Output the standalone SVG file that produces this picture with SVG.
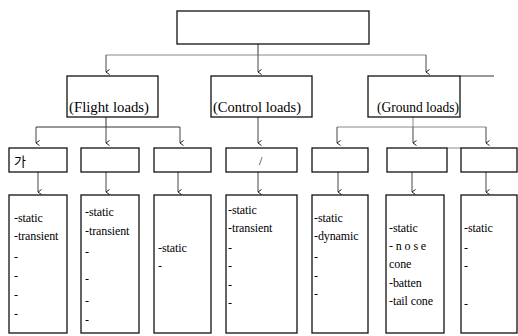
<svg xmlns="http://www.w3.org/2000/svg" width="518" height="336" viewBox="0 0 518 336">
<defs>
<marker id="ah" viewBox="0 0 8 8" refX="4" refY="7" markerWidth="8" markerHeight="8" markerUnits="userSpaceOnUse" orient="auto">
<path d="M1.5,3.5 L4,7 L6.5,3.5" fill="none" stroke="#222" stroke-width="1"/>
</marker>
</defs>
<style>
.box{fill:#fff;stroke:#111;stroke-width:1.3}
.ln{fill:none;stroke:#333;stroke-width:1}
.g{stroke:#888}
.ar{fill:none;stroke:#444;stroke-width:1;marker-end:url(#ah)}
.t{font-size:12px;fill:#000;letter-spacing:-0.1px}
.h{font-size:14px;fill:#000;text-anchor:middle}
.k{font-size:13px;fill:#000}
</style>
<rect width="518" height="336" fill="#fff"/>
<g id="connectors">
<path class="ln" d="M258,44 V55"/>
<path class="ln g" d="M106,55 H426"/>
<path class="ar" d="M106,55 V72"/>
<path class="ar" d="M258,55 V72"/>
<path class="ar" d="M426,55 V72"/>
<path class="ln" d="M460,76 H494"/>
<path class="ln" d="M106,117 V127"/>
<path class="ln" d="M36,127 H180"/>
<path class="ar" d="M36,127 V143"/>
<path class="ar" d="M106,127 V143"/>
<path class="ar" d="M180,127 V143"/>
<path class="ar" d="M258,117 V143"/>
<path class="ln g" d="M413,117 V127"/>
<path class="ln g" d="M337,127 H486"/>
<path class="ar" d="M337,127 V143"/>
<path class="ar" d="M413,127 V143"/>
<path class="ar" d="M486,127 V143"/>
<path class="ln g" d="M447,148 H461"/>
<path class="ar" d="M38,172 V192"/>
<path class="ar" d="M106,172 V192"/>
<path class="ar" d="M178,172 V192"/>
<path class="ar" d="M258,172 V192"/>
<path class="ar" d="M338,172 V192"/>
<path class="ar" d="M412,172 V192"/>
<path class="ar" d="M486,172 V192"/>
</g>
<g font-family="'Liberation Serif', 'DejaVu Serif', serif">
<g id="top"><rect class="box" x="177" y="11" width="192" height="33"/></g>
<g id="flight"><rect class="box" x="67" y="76" width="91" height="41"/><text class="h" x="109" y="112" textLength="80" lengthAdjust="spacingAndGlyphs">(Flight loads)</text></g>
<g id="control"><rect class="box" x="211" y="76" width="101" height="41"/><text class="h" x="257" y="112" textLength="88" lengthAdjust="spacingAndGlyphs">(Control loads)</text></g>
<g id="ground"><rect class="box" x="368" y="76" width="92" height="41"/><text class="h" x="418" y="112" textLength="82" lengthAdjust="spacingAndGlyphs">(Ground loads)</text></g>
<g id="c1"><rect class="box" x="9" y="148" width="58" height="24"/><text class="k" x="14" y="166" font-family="'Noto Sans CJK KR', sans-serif">가</text></g>
<g id="c2"><rect class="box" x="81" y="148" width="58" height="24"/></g>
<g id="c3"><rect class="box" x="154" y="148" width="57" height="24"/></g>
<g id="c4"><rect class="box" x="226" y="148" width="71" height="24"/><text class="t" x="259" y="165">/</text></g>
<g id="c5"><rect class="box" x="312" y="148" width="56" height="24"/></g>
<g id="c6"><rect class="box" x="387" y="148" width="60" height="24"/></g>
<g id="c7"><rect class="box" x="461" y="148" width="56" height="24"/></g>
<g id="d1"><rect class="box" x="9" y="195" width="58" height="138"/>
<text class="t" x="14" y="222">-static</text><text class="t" x="14" y="240">-transient</text>
<text class="t" x="14" y="261">-</text><text class="t" x="14" y="280">-</text><text class="t" x="14" y="299">-</text><text class="t" x="14" y="318">-</text></g>
<g id="d2"><rect class="box" x="81" y="195" width="58" height="138"/>
<text class="t" x="85" y="216">-static</text><text class="t" x="85" y="235">-transient</text>
<text class="t" x="85" y="256">-</text><text class="t" x="85" y="283">-</text><text class="t" x="85" y="305">-</text><text class="t" x="85" y="324">-</text></g>
<g id="d3"><rect class="box" x="154" y="195" width="57" height="138"/>
<text class="t" x="158" y="252">-static</text><text class="t" x="158" y="270">-</text></g>
<g id="d4"><rect class="box" x="226" y="195" width="71" height="138"/>
<text class="t" x="228" y="214">-static</text><text class="t" x="228" y="232">-transient</text>
<text class="t" x="228" y="252">-</text><text class="t" x="228" y="270">-</text><text class="t" x="228" y="289">-</text><text class="t" x="228" y="307">-</text></g>
<g id="d5"><rect class="box" x="312" y="195" width="56" height="138"/>
<text class="t" x="314" y="222">-static</text><text class="t" x="314" y="240">-dynamic</text>
<text class="t" x="314" y="261">-</text><text class="t" x="314" y="280">-</text><text class="t" x="314" y="298">-</text></g>
<g id="d6"><rect class="box" x="386" y="195" width="58" height="138"/>
<text class="t" x="389" y="232">-static</text><text class="t" x="389" y="250" letter-spacing="3.2">- n o s e</text>
<text class="t" x="389" y="268">cone</text><text class="t" x="389" y="287">-batten</text><text class="t" x="389" y="305">-tail cone</text></g>
<g id="d7"><rect class="box" x="461" y="195" width="56" height="138"/>
<text class="t" x="464" y="232">-static</text><text class="t" x="464" y="252">-</text>
<text class="t" x="464" y="270">-</text><text class="t" x="464" y="308">-</text></g>
</g>
</svg>
